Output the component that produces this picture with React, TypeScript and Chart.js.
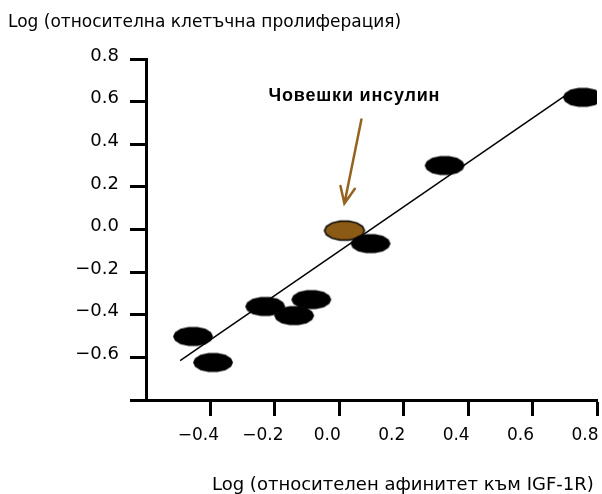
import React, { useEffect, useRef } from "react";
import { Chart, registerables } from "chart.js";

Chart.register(...registerables);

// ---- data ----
const affinityX = [-0.454, -0.392, -0.23, -0.14, -0.087, 0.097, 0.327, 0.756];
const proliferationY = [-0.502, -0.624, -0.361, -0.404, -0.329, -0.066, 0.3, 0.62];
const insulinX = [0.016];
const insulinY = [-0.005];
const fitX = [-0.494, 0.725];
const fitY = [-0.615, 0.653];
const xTickValues = [-0.4, -0.2, 0, 0.2, 0.4, 0.6, 0.8];
const yTickValues = [-0.8, -0.6, -0.4, -0.2, 0, 0.2, 0.4, 0.6, 0.8];
const xTitle = "Log (относителен афинитет към IGF-1R)";
const yTitle = "Log (относителна клетъчна пролиферация)";
const annotationLabel = "Човешки инсулин";
const annotationText = { x: 0.047, y: 0.601 };
const arrowFrom = { x: 0.0687, y: 0.516 };
const arrowTo = { x: 0.0159, y: 0.122 };

const BROWN = "#8B5A14";
const ARROW_BROWN = "#93631F";
const FONT = '"DejaVu Sans", Verdana, sans-serif';
const ANNOT_FONT = '"Liberation Sans", Arial, sans-serif';

function fmt(v: number) {
  const s = (Math.abs(v) < 1e-9 ? 0 : v).toFixed(1);
  return s.replace("-", "\u2212");
}

function makeBlob(fill: string, stroke: string | null) {
  const w = 44, h = 24;
  const c = document.createElement("canvas");
  c.width = w;
  c.height = h;
  const ctx = c.getContext("2d")!;
  ctx.beginPath();
  const n = 14;
  for (let i = 0; i < n; i++) {
    const a = (i / n) * Math.PI * 2;
    const x = w / 2 + 20 * Math.cos(a);
    const y = h / 2 + 9.8 * Math.sin(a);
    if (i === 0) ctx.moveTo(x, y);
    else ctx.lineTo(x, y);
  }
  ctx.closePath();
  ctx.fillStyle = fill;
  ctx.fill();
  if (stroke) {
    ctx.lineWidth = 1.5;
    ctx.strokeStyle = stroke;
    ctx.stroke();
  }
  return c;
}

const overlayPlugin = {
  id: "overlay",
  afterDraw(chart: any) {
    const ctx = chart.ctx as CanvasRenderingContext2D;
    const xs = chart.scales.x;
    const ys = chart.scales.y;
    ctx.save();
    ctx.fillStyle = "#000";
    ctx.textAlign = "left";
    ctx.textBaseline = "alphabetic";
    ctx.font = `17px ${FONT}`;
    ctx.fillText(yTitle, 8, 27);
    ctx.font = `18px ${FONT}`;
    ctx.fillText(xTitle, 212, 490);

    // annotation
    ctx.font = `bold 18px ${ANNOT_FONT}`;
    (ctx as any).letterSpacing = "0.8px";
    ctx.textAlign = "center";
    ctx.textBaseline = "alphabetic";
    ctx.fillText(annotationLabel, xs.getPixelForValue(annotationText.x), ys.getPixelForValue(annotationText.y));
    (ctx as any).letterSpacing = "0px";

    // arrow
    const x1 = xs.getPixelForValue(arrowFrom.x);
    const y1 = ys.getPixelForValue(arrowFrom.y);
    const x2 = xs.getPixelForValue(arrowTo.x);
    const y2 = ys.getPixelForValue(arrowTo.y);
    ctx.strokeStyle = ARROW_BROWN;
    ctx.lineWidth = 2.5;
    ctx.lineCap = "round";
    ctx.beginPath();
    ctx.moveTo(x1, y1);
    ctx.lineTo(x2, y2);
    const ang = Math.atan2(y1 - y2, x1 - x2);
    const L = 18, spread = 0.42;
    ctx.moveTo(x2 + L * Math.cos(ang - spread), y2 + L * Math.sin(ang - spread));
    ctx.lineTo(x2, y2);
    ctx.lineTo(x2 + L * Math.cos(ang + spread), y2 + L * Math.sin(ang + spread));
    ctx.stroke();
    ctx.restore();
  },
};

export default function App() {
  const ref = useRef<HTMLCanvasElement>(null);
  useEffect(() => {
    if (!ref.current) return;
    const blackBlob = makeBlob("#000", null);
    const brownBlob = makeBlob(BROWN, "#000");
    const chart = new Chart(ref.current, {
      type: "scatter",
      data: {
        datasets: [
          {
            label: "analogs",
            data: affinityX.map((x, i) => ({ x, y: proliferationY[i] })),
            pointStyle: blackBlob as any,
            order: 1,
          },
          {
            label: "insulin",
            data: insulinX.map((x, i) => ({ x, y: insulinY[i] })),
            pointStyle: brownBlob as any,
            order: 2,
          },
          {
            label: "fit",
            type: "line",
            data: fitX.map((x, i) => ({ x, y: fitY[i] })),
            borderColor: "#000",
            borderWidth: 1.5,
            pointRadius: 0,
            showLine: true,
            fill: false,
            order: 3,
          } as any,
        ],
      },
      options: {
        responsive: false,
        animation: false,
        events: [],
        layout: { padding: { top: 59, right: 5, left: 0, bottom: 0 } },
        plugins: { legend: { display: false }, tooltip: { enabled: false }, title: { display: false } },
        scales: {
          x: {
            type: "linear",
            min: -0.6,
            max: 0.8,
            afterBuildTicks: (s: any) => {
              s.ticks = xTickValues.map((v) => ({ value: v }));
            },
            afterFit: (s: any) => {
              s.height = 94;
              s.paddingLeft = 0;
              s.paddingRight = 0;
            },
            grid: {
              drawOnChartArea: false,
              drawTicks: true,
              tickLength: 16,
              tickWidth: 3,
              tickColor: "#000",
            },
            border: { display: true, width: 3, color: "#000" },
            ticks: {
              color: "#000",
              font: { family: FONT, size: 17 },
              padding: 9,
              labelOffset: -12,
              maxRotation: 0,
              autoSkip: false,
              callback: (v: any) => fmt(Number(v)),
            },
          },
          y: {
            type: "linear",
            min: -0.8,
            max: 0.8,
            afterBuildTicks: (s: any) => {
              s.ticks = yTickValues.map((v) => ({ value: v }));
            },
            afterFit: (s: any) => {
              s.width = 146;
              s.paddingTop = 0;
              s.paddingBottom = 0;
            },
            grid: {
              drawOnChartArea: false,
              drawTicks: true,
              tickLength: 16,
              tickWidth: 3,
              tickColor: "#000",
            },
            border: { display: true, width: 3, color: "#000" },
            ticks: {
              color: "#000",
              font: { family: FONT, size: 18 },
              padding: 11,
              labelOffset: -3,
              autoSkip: false,
              callback: (v: any) => (Number(v) < -0.75 ? "" : fmt(Number(v))),
            },
          },
        },
      },
      plugins: [overlayPlugin],
    });
    return () => chart.destroy();
  }, []);
  return (
    <div style={{ position: "absolute", left: 0, top: 0, width: 602, height: 494, background: "#fff" }}>
      <canvas ref={ref} width={602} height={494} style={{ display: "block", width: 602, height: 494 }} />
    </div>
  );
}
